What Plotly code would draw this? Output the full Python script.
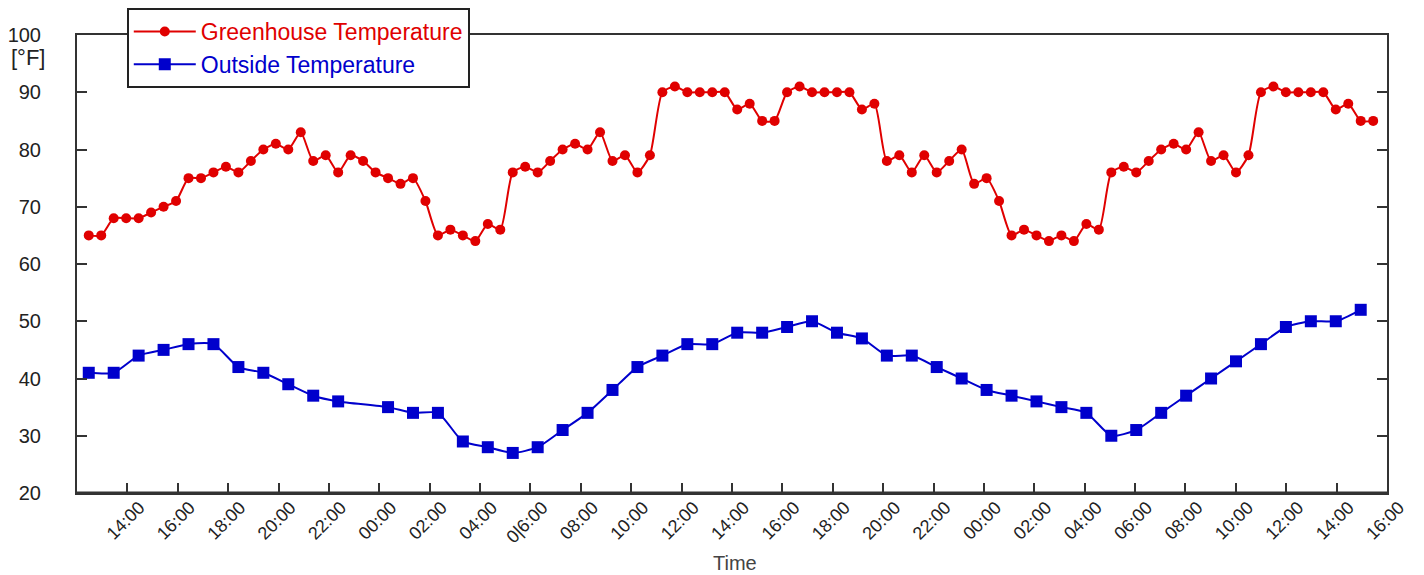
import pandas as pd
import plotly.graph_objects as go

# ---- data ----
GREENHOUSE_START = "2023-01-01 12:28"
GREENHOUSE_INTERVAL = "29min42s"
greenhouse_temp = [
    65, 65, 68, 68, 68, 69, 70, 71, 75, 75, 76, 77, 76, 78, 80, 81, 80, 83, 78, 79, 76, 79, 78, 76, 75, 74, 75,
    71, 65, 66, 65, 64, 67, 66, 76, 77, 76, 78, 80, 81, 80, 83, 78, 79, 76, 79, 90, 91, 90, 90, 90, 90, 87,
    88, 85, 85, 90, 91, 90, 90, 90, 90, 87, 88, 78, 79, 76, 79, 76, 78, 80, 74, 75, 71, 65, 66, 65, 64, 65, 64,
    67, 66, 76, 77, 76, 78, 80, 81, 80, 83, 78, 79, 76, 79, 90, 91, 90, 90, 90, 90, 87, 88, 85, 85,
]

OUTSIDE_START = "2023-01-01 12:28"
OUTSIDE_INTERVAL = "59min24s"
outside_temp = [
    41, 41, 44, 45, 46, 46, 42, 41, 39, 37, 36, None, 35, 34, 34, 29, 28, 27, 28, 31, 34, 38, 42, 44, 46, 46,
    48, 48, 49, 50, 48, 47, 44, 44, 42, 40, 38, 37, 36, 35, 34, 30, 31, 34, 37, 40, 43, 46, 49, 50, 50, 52,
]

X_START = "2023-01-01 12:00"
X_END = "2023-01-03 16:00"
FIRST_TICK = "2023-01-01 14:00"
tick_labels = [
    "14:00", "16:00", "18:00", "20:00", "22:00", "00:00", "02:00", "04:00", "0|6:00", "08:00", "10:00",
    "12:00", "14:00", "16:00", "18:00", "20:00", "22:00", "00:00", "02:00", "04:00", "06:00", "08:00",
    "10:00", "12:00", "14:00", "16:00",
]

RED = "#e00000"
BLUE = "#0000cc"
AXIS = "#333333"
FONT = "Arial, Liberation Sans, sans-serif"

gh_time = pd.date_range(GREENHOUSE_START, periods=len(greenhouse_temp), freq=GREENHOUSE_INTERVAL)
out_time = pd.date_range(OUTSIDE_START, periods=len(outside_temp), freq=OUTSIDE_INTERVAL)
tick_vals = pd.date_range(FIRST_TICK, periods=len(tick_labels), freq="2h")

fig = go.Figure()
fig.add_trace(go.Scatter(
    x=gh_time, y=greenhouse_temp, mode="lines+markers",
    name=f"<span style='color:{RED}'>Greenhouse Temperature</span>",
    line=dict(color=RED, width=2, shape="spline", smoothing=0.6),
    marker=dict(symbol="circle", size=10, color=RED),
))
fig.add_trace(go.Scatter(
    x=out_time, y=outside_temp, mode="lines+markers", connectgaps=True,
    name=f"<span style='color:{BLUE}'>Outside Temperature</span>",
    line=dict(color=BLUE, width=2, shape="spline", smoothing=0.6),
    marker=dict(symbol="square", size=12, color=BLUE),
))

# the page body has an 8px margin, so the figure is sized and offset to land the plot box at the reference position
fig.update_layout(
    width=1416, height=567,
    margin=dict(l=69, r=37, t=27, b=82, autoexpand=False),
    plot_bgcolor="white", paper_bgcolor="white",
    font=dict(family=FONT, color="#222222"),
    showlegend=True,
    legend=dict(
        x=0.038, y=1.059, xanchor="left", yanchor="top",
        bgcolor="white", bordercolor="#222222", borderwidth=2,
        font=dict(size=23, family=FONT), tracegroupgap=0, itemwidth=62,
    ),
    xaxis=dict(
        type="date", range=[X_START, X_END],
        tickmode="array", tickvals=tick_vals, ticktext=tick_labels,
        tickangle=-45, tickfont=dict(size=18, family=FONT, color="#222222"),
        ticks="inside", ticklen=10, tickwidth=1.5, tickcolor=AXIS,
        showline=True, linecolor=AXIS, linewidth=2, mirror=True,
        showgrid=False, zeroline=False, ticklabelshift=12, ticklabelstandoff=-5,
    ),
    yaxis=dict(
        range=[20, 100], tickmode="linear", tick0=20, dtick=10,
        tickfont=dict(size=20, family=FONT, color="#222222"),
        ticks="inside", ticklen=10, tickwidth=1.5, tickcolor=AXIS,
        showline=True, linecolor=AXIS, linewidth=2, mirror="ticks",
        showgrid=False, zeroline=False, ticklabelstandoff=30,
    ),
    shapes=[
        dict(type="line", xref="paper", yref="paper", x0=0, x1=1, y0=0, y1=0,
             line=dict(color=AXIS, width=3)),
    ],
    annotations=[
        dict(text="[°F]", xref="paper", yref="paper", x=-0.0374, y=0.95,
             xanchor="center", yanchor="middle",
             showarrow=False, font=dict(size=22, family=FONT, color="#222222")),
        dict(text="Time", xref="paper", yref="paper", x=0.502, y=-0.1528,
             xanchor="center", yanchor="middle",
             showarrow=False, font=dict(size=20, family=FONT, color="#444444")),
    ],
)

fig.write_html("out.html")
